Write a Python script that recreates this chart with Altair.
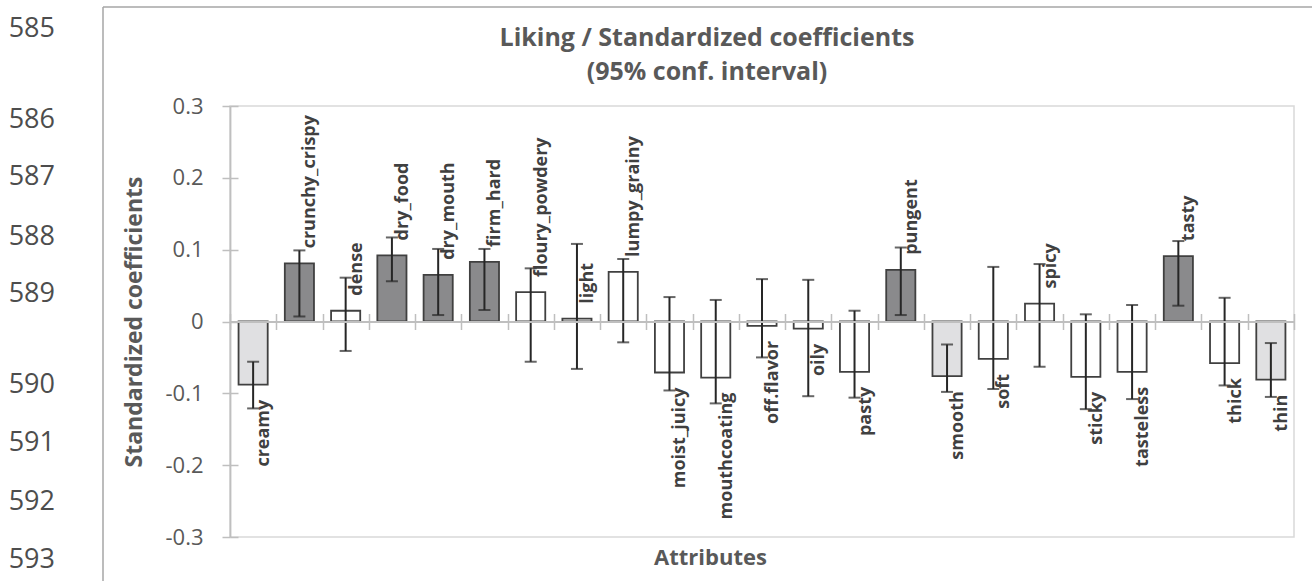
import altair as alt
import pandas as pd

# Standardized coefficients of each sensory attribute on liking, with 95% CI
attributes = [
    "creamy", "crunchy_crispy", "dense", "dry_food", "dry_mouth", "firm_hard",
    "floury_powdery", "light", "lumpy_grainy", "moist_juicy", "mouthcoating",
    "off.flavor", "oily", "pasty", "pungent", "smooth", "soft", "spicy",
    "sticky", "tasteless", "tasty", "thick", "thin",
]
coefficients = [
    -0.088, 0.081, 0.015, 0.092, 0.065, 0.083,
    0.041, 0.004, 0.069, -0.071, -0.078,
    -0.006, -0.010, -0.070, 0.072, -0.076, -0.052, 0.025,
    -0.077, -0.070, 0.091, -0.058, -0.081,
]
ci_lower = [
    -0.121, 0.007, -0.041, 0.056, 0.009, 0.016,
    -0.056, -0.066, -0.029, -0.096, -0.114,
    -0.050, -0.104, -0.106, 0.009, -0.098, -0.094, -0.063,
    -0.122, -0.108, 0.022, -0.089, -0.105,
]
ci_upper = [
    -0.056, 0.099, 0.061, 0.117, 0.101, 0.101,
    0.074, 0.108, 0.087, 0.034, 0.030,
    0.059, 0.058, 0.015, 0.103, -0.032, 0.076, 0.080,
    0.010, 0.023, 0.112, 0.033, -0.030,
]
y_ticks = [-0.3, -0.2, -0.1, 0, 0.1, 0.2, 0.3]
title_lines = ["Liking / Standardized coefficients", "(95% conf. interval)"]

# document line numbers printed in the page gutter
line_numbers = [585, 586, 587, 588, 589, 590, 591, 592, 593]

# ---- layout (pixels) ----
W, H = 1064, 431
PAD = {"left": 230, "top": 106, "right": 18, "bottom": 44}
gutter_y = [29, 120, 177, 237, 294, 385, 443, 502, 560]  # page coordinates
title_x, title_y = 707, [38, 72]                          # page coordinates

GREY_AXIS = "#bfbfbf"
TEXT = "#595959"
FONT = "Open Sans"


def significance(lo, hi):
    if lo > 0:
        return "positive"
    if hi < 0:
        return "negative"
    return "ns"


df = pd.DataFrame({
    "attribute": attributes,
    "coef": coefficients,
    "lower": ci_lower,
    "upper": ci_upper,
})
df["sig"] = [significance(lo, hi) for lo, hi in zip(ci_lower, ci_upper)]

yscale = alt.Scale(domain=[-0.3, 0.3], nice=False)
xscale = alt.Scale(paddingInner=0, paddingOuter=0)
label_expr = "replace(format(datum.value, '.1~f'), '\u2212', '-')"

base = alt.Chart(df)

bars = base.mark_bar(width={"band": 0.63}, stroke="#404040", strokeWidth=1.8).encode(
    x=alt.X(
        "attribute:N", sort=None, scale=xscale,
        axis=alt.Axis(
            title="Attributes", labels=False, ticks=False, domain=False,
            titleX=480, titleY=20, titleAlign="center", titleBaseline="middle",
            titleFont=FONT, titleFontSize=22, titleFontWeight="bold", titleColor=TEXT,
        ),
    ),
    y=alt.Y(
        "coef:Q", scale=yscale,
        axis=alt.Axis(
            title="Standardized coefficients", values=y_ticks, labelExpr=label_expr,
            grid=False, domainColor=GREY_AXIS, domainWidth=1.8,
            tickColor=GREY_AXIS, tickSize=8, tickWidth=1.5,
            labelFont=FONT, labelFontSize=22, labelColor=TEXT, labelPadding=19,
            titleFont=FONT, titleFontSize=23, titleFontWeight="bold", titleColor=TEXT,
            titleX=-96, titleY=H / 2, titleAngle=270, titleAlign="center",
            titleBaseline="middle",
        ),
    ),
    fill=alt.Fill(
        "sig:N",
        scale=alt.Scale(domain=["positive", "negative", "ns"],
                        range=["#8a8a8c", "#e0e0e2", "#ffffff"]),
        legend=None,
    ),
)

# zero line with category boundary ticks crossing it
zero_axis_down = alt.Axis(
    orient="bottom", offset=-H / 2, title=None, labels=False,
    domain=True, domainColor=GREY_AXIS, domainWidth=2,
    ticks=True, tickBand="extent", tickSize=8, tickColor=GREY_AXIS, tickWidth=1.5,
    zindex=1,
)
zero_axis_up = alt.Axis(
    orient="top", offset=-H / 2, title=None, labels=False, domain=False,
    ticks=True, tickBand="extent", tickSize=8, tickColor=GREY_AXIS, tickWidth=1.5,
    zindex=1,
)
inner_y_ticks = alt.Axis(
    orient="right", offset=-W, title=None, labels=False, domain=False, grid=False,
    values=y_ticks, ticks=True, tickSize=8, tickColor=GREY_AXIS, tickWidth=1.5,
)

err = base.mark_rule(color="#262626", strokeWidth=2).encode(
    x=alt.X("attribute:N", sort=None, scale=xscale, axis=zero_axis_down),
    y=alt.Y("lower:Q", scale=yscale, axis=inner_y_ticks),
    y2="upper:Q",
)
cap_lo = base.mark_tick(color="#262626", size=12, thickness=2, orient="horizontal").encode(
    x=alt.X("attribute:N", sort=None, scale=xscale, axis=zero_axis_up),
    y=alt.Y("lower:Q", scale=yscale, axis=None),
)
cap_hi = base.mark_tick(color="#262626", size=12, thickness=2, orient="horizontal").encode(
    x=alt.X("attribute:N", sort=None, scale=xscale, axis=None),
    y=alt.Y("upper:Q", scale=yscale, axis=None),
)

label_style = dict(angle=270, baseline="middle", dy=11, font=FONT, fontSize=18,
                   fontWeight="bold", color="#404040")
labels_pos = base.transform_filter("datum.coef >= 0").mark_text(
    align="left", dx=15, **label_style
).encode(
    x=alt.X("attribute:N", sort=None, scale=xscale, axis=None),
    y=alt.Y("coef:Q", scale=yscale, axis=None),
    text="attribute:N",
)
labels_neg = base.transform_filter("datum.coef < 0").mark_text(
    align="right", dx=-15, **label_style
).encode(
    x=alt.X("attribute:N", sort=None, scale=xscale, axis=None),
    y=alt.Y("coef:Q", scale=yscale, axis=None),
    text="attribute:N",
)

# chart-area frame (left and top edges)
one = alt.Data(values=[{"k": 0}])
frame_left = alt.Chart(one).mark_rule(color="#a6a6a6", strokeWidth=1.5).encode(
    x=alt.value(103 - PAD["left"]),
    y=alt.value(7 - PAD["top"]),
    y2=alt.value(H + PAD["bottom"] + 5),
)
frame_top = alt.Chart(one).mark_rule(color="#a6a6a6", strokeWidth=1.5).encode(
    x=alt.value(103 - PAD["left"]),
    x2=alt.value(W + PAD["right"] + 5),
    y=alt.value(7 - PAD["top"]),
)

# two-line chart title
titles = [
    alt.Chart(one).mark_text(
        align="center", baseline="middle", font=FONT, fontSize=25,
        fontWeight="bold", color=TEXT,
    ).encode(
        text=alt.value(line),
        x=alt.value(title_x - PAD["left"]),
        y=alt.value(ty - PAD["top"]),
    )
    for line, ty in zip(title_lines, title_y)
]

gutter = [
    alt.Chart(one).mark_text(
        align="right", baseline="middle", font=FONT, fontSize=27, color="#4d4d4d"
    ).encode(
        text=alt.value(str(n)),
        x=alt.value(55 - PAD["left"]),
        y=alt.value(py - PAD["top"]),
    )
    for n, py in zip(line_numbers, gutter_y)
]

chart = alt.layer(
    bars, err, cap_lo, cap_hi, labels_pos, labels_neg, frame_left, frame_top,
    *titles, *gutter
).resolve_axis(
    x="independent", y="independent"
).properties(
    width=W,
    height=H,
    autosize=alt.AutoSizeParams(type="none"),
    padding=PAD,
    background="white",
).configure_view(
    stroke="#d9d9d9", strokeWidth=1.5
)

chart.save("out.html", embed_options={"renderer": "svg", "actions": False})
